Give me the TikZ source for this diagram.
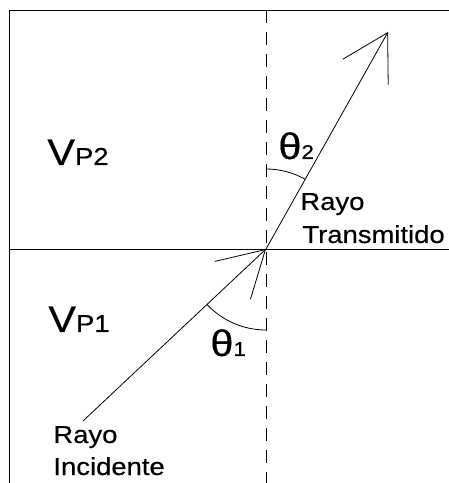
\documentclass[tikz,border=0pt]{standalone}
\usepackage{fontspec}
\setmainfont[FakeStretch=1.12,FakeBold=0.4]{Liberation Sans}
\usetikzlibrary{arrows.meta}
\begin{document}
\begin{tikzpicture}[x=1pt,y=1pt,line width=0.8pt,
    ray/.style={-{Straight Barb[length=45pt,width=52pt]}},
    normal/.style={dash pattern=on 13pt off 9pt},
    lbl/.style={anchor=base west,inner sep=0pt,font=\fontsize{24.5}{28}\selectfont},
    big/.style={anchor=base west,inner sep=0pt,font=\fontsize{37}{40}\selectfont}]
  \useasboundingbox (0,0) rectangle (449,483);
  % medios
  \draw (9,0) -- (9,472.5) -- (449,472.5);
  \draw (9,234) -- (449,234);
  \coordinate (O) at (266,234);
  \coordinate (Ntop) at (266,472.5);
  \coordinate (Nbot) at (266,0);
  \draw[normal] (Ntop) -- (Nbot);
  % rayos
  \coordinate (S) at (83,62);
  \coordinate (T) at (388,451);
  \draw[ray] (S) -- (O);
  \draw[ray] (O) -- (T);
  % angulos
  \draw (O) ++(223.2:81) arc[start angle=223.2,end angle=270,radius=81];
  \draw (O) ++(60.6:80) arc[start angle=60.6,end angle=90,radius=80];
  % textos
  \node[big] (vp2) at (47,318) {V{\fontsize{24.5}{28}\selectfont P2}};
  \node[big] (vp1) at (48,151) {V{\fontsize{24.5}{28}\selectfont P1}};
  \node[big] (th2) at (278,324) {θ{\fontsize{20}{22}\selectfont 2}};
  \node[big] (th1) at (210,127) {θ{\fontsize{20}{22}\selectfont 1}};
  \node[lbl] (rt1) at (300,273) {Rayo};
  \node[lbl] (rt2) at (302,240) {Transmitido};
  \node[lbl] (ri1) at (53,40) {Rayo};
  \node[lbl] (ri2) at (53,8) {Incidente};
\end{tikzpicture}
\end{document}
